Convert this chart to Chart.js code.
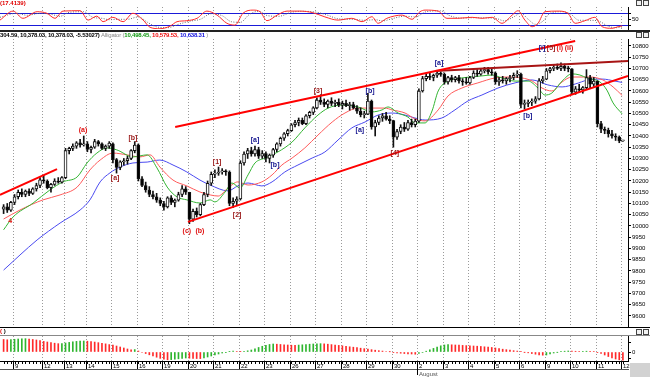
<!DOCTYPE html>
<html><head><meta charset="utf-8">
<script src="https://cdn.jsdelivr.net/npm/chart.js@4.4.0/dist/chart.umd.min.js"></script>
<style>
html,body{margin:0;padding:0;background:#fff;}
body{width:650px;height:377px;position:relative;overflow:hidden;font-family:"Liberation Sans",Arial,sans-serif;}
canvas{position:absolute;left:0;}
.rule{position:absolute;left:0;width:650px;}
.txt{position:absolute;left:0;white-space:nowrap;font-size:6px;line-height:7px;font-weight:bold;}
.ico{position:absolute;left:636px;width:14px;height:6px;}
.ico i{position:absolute;top:0;width:4px;height:4px;border:1px solid #444;background:#f2f2f2;}
</style></head><body>
<canvas id="c1" width="650" height="31" style="top:0"></canvas>
<div class="txt" style="top:0;color:#e00000">(17.4139)</div>
<div class="ico" style="top:0"><i style="left:0"></i><i style="left:7px"></i></div>
<div class="rule" style="top:30px;height:2px;background:#222"></div>
<div class="txt" style="top:32px;color:#000;letter-spacing:-0.2px">304.59, 10,378.03, 10,378.03, -5.53027) <span style="color:#888;font-weight:normal">Alligator (</span><span style="color:#119911">10,498.45,</span> <span style="color:#ee1111">10,579.53,</span> <span style="color:#1111dd">10,638.31</span> <span style="color:#888;font-weight:normal">)</span></div>
<div class="ico" style="top:32px"><i style="left:0"></i><i style="left:7px"></i></div>
<canvas id="c2" width="650" height="288" style="top:39px"></canvas>
<div class="rule" style="top:327px;height:1px;background:#000"></div>
<div class="txt" style="top:328px;color:#000"><span style="color:#e00000">(</span> )</div>
<div class="ico" style="top:329px"><i style="left:0"></i><i style="left:7px"></i></div>
<div class="rule" style="top:335px;height:1px;background:#888"></div>
<canvas id="c3" width="650" height="41" style="top:336px"></canvas>
<script>
// ---------------- DATA ----------------
const xMin = -0.99, xMax = 171.4;
const dayLabels = ['9','12','13','14','15','16','19','20','21','22','23','26','27','28','29','30','2','3','4','5','6','9','10','11','12'];
const dayStart  = [3,11,17,23,30,37,44,51,58,65,72,79,86,93,100,107,114,121,128,135,142,149,156,163,170];
const monthMarks = [[16,'August']];

const opens = [10075,10085,10070,10105,10130,10150,10140,10155,10145,10165,
10180,10205,10200,10170,10185,10200,10195,10215,10335,10345,
10355,10370,10360,10365,10340,10350,10375,10365,10345,10355,
10365,10295,10260,10285,10290,10300,10335,10360,10210,10180,
10160,10140,10130,10115,10100,10085,10125,10105,10115,10140,
10165,10150,10030,10065,10050,10095,10140,10190,10230,10235,
10240,10245,10240,10100,10110,10120,10280,10320,10335,10320,
10340,10310,10322,10300,10315,10340,10365,10390,10410,10424,
10450,10460,10470,10455,10490,10505,10525,10560,10550,10540,
10555,10545,10550,10537,10545,10535,10540,10525,10510,10495,
10497,10555,10440,10460,10480,10490,10475,10468,10395,10420,
10440,10430,10460,10450,10466,10600,10655,10665,10660,10670,
10680,10674,10640,10660,10650,10660,10645,10640,10636,10660,
10680,10675,10690,10695,10685,10680,10640,10650,10645,10655,
10660,10670,10675,10540,10545,10550,10555,10565,10645,10653,
10690,10700,10705,10700,10710,10700,10698,10595,10610,10605,
10615,10660,10630,10644,10455,10430,10425,10410,10400,10395,10378];
const highs = [10095,10100,10110,10140,10160,10165,10160,10165,10170,10190,
10215,10225,10205,10190,10210,10215,10220,10345,10350,10365,
10375,10385,10400,10375,10355,10385,10380,10370,10360,10375,
10370,10300,10290,10300,10310,10340,10375,10365,10220,10195,
10175,10155,10145,10125,10110,10130,10135,10120,10150,10180,
10175,10150,10075,10080,10100,10150,10200,10240,10250,10262,
10255,10250,10245,10125,10130,10290,10330,10345,10350,10355,
10350,10335,10330,10320,10345,10370,10395,10415,10430,10455,
10470,10480,10480,10495,10510,10530,10570,10582,10565,10560,
10570,10560,10565,10555,10560,10550,10550,10535,10525,10510,
10590,10560,10470,10490,10500,10505,10490,10470,10430,10450,
10460,10470,10475,10475,10610,10665,10675,10680,10675,10690,
10685,10680,10665,10670,10665,10670,10655,10660,10665,10690,
10695,10700,10705,10705,10700,10685,10660,10665,10660,10670,
10680,10690,10680,10560,10560,10565,10575,10655,10665,10700,
10705,10715,10720,10725,10720,10710,10700,10620,10630,10620,
10695,10670,10660,10645,10465,10440,10435,10425,10410,10400,10380];
const lows = [10055,10060,10065,10095,10120,10130,10130,10135,10140,10155,
10170,10190,10165,10150,10180,10190,10190,10210,10320,10335,
10345,10350,10355,10330,10325,10345,10355,10340,10335,10345,
10280,10235,10250,10270,10275,10295,10325,10200,10175,10150,
10130,10120,10105,10090,10070,10080,10095,10085,10110,10130,
10140,10010,10020,10040,10045,10090,10130,10180,10215,10225,
10230,10225,10090,10082,10095,10115,10270,10300,10310,10310,
10300,10300,10285,10280,10305,10330,10355,10380,10400,10420,
10440,10445,10450,10450,10480,10495,10520,10540,10530,10525,
10535,10530,10530,10520,10530,10515,10520,10500,10485,10480,
10495,10430,10400,10450,10465,10470,10455,10350,10385,10410,
10420,10425,10440,10440,10460,10595,10645,10650,10645,10660,
10665,10630,10630,10640,10640,10635,10625,10630,10630,10655,
10665,10670,10680,10675,10670,10630,10625,10635,10630,10640,
10650,10660,10525,10520,10530,10535,10545,10560,10635,10650,
10680,10690,10695,10690,10690,10685,10585,10585,10595,10590,
10610,10615,10620,10440,10415,10410,10395,10390,10380,10370,10376];
const closes = [10085,10070,10105,10130,10150,10140,10155,10145,10165,10180,
10205,10200,10170,10185,10200,10195,10215,10335,10345,10355,
10370,10360,10365,10340,10350,10375,10365,10345,10355,10368,
10295,10260,10285,10290,10300,10335,10360,10210,10180,10160,
10140,10130,10115,10100,10085,10125,10105,10115,10140,10165,
10150,10030,10065,10050,10095,10140,10190,10230,10235,10240,
10245,10240,10100,10110,10120,10280,10320,10335,10320,10340,
10310,10322,10300,10315,10340,10365,10390,10410,10424,10450,
10460,10470,10455,10490,10505,10525,10560,10550,10540,10555,
10545,10550,10537,10545,10535,10540,10525,10510,10495,10497,
10555,10440,10460,10480,10490,10475,10468,10395,10420,10440,
10430,10460,10450,10466,10600,10655,10665,10660,10670,10680,
10674,10640,10660,10650,10660,10645,10640,10636,10660,10680,
10675,10690,10695,10685,10680,10640,10650,10645,10655,10660,
10670,10675,10540,10545,10550,10555,10565,10645,10653,10690,
10700,10705,10700,10710,10700,10698,10595,10610,10605,10615,
10660,10630,10644,10455,10430,10425,10410,10400,10395,10378,10378];

// Alligator lines: [bar, price]
const lips = [[0,9983],[2.6,10040],[8.1,10102],[12.7,10160],[16.3,10196],[20.2,10218],[22.9,10280],[25.6,10324],[28.4,10347],[31.1,10338],[35.5,10307],[39.4,10316],[42.1,10258],[44.9,10173],[47.6,10129],[50.3,10116],[53.9,10102],[56.7,10116],[58,10107],[60.8,10151],[62.7,10191],[64.9,10169],[67.1,10227],[69,10280],[71.8,10302],[75.3,10329],[79.2,10373],[82.7,10436],[86.3,10493],[89.1,10524],[92.9,10538],[97.3,10529],[101.1,10507],[103.9,10516],[105.5,10529],[108.3,10502],[111,10484],[112.9,10458],[115.7,10458],[117.6,10511],[119.3,10600],[122,10644],[125.8,10658],[131.3,10667],[134.1,10671],[136.8,10658],[140.4,10644],[144,10644],[146.7,10613],[148.6,10582],[150.5,10591],[153.3,10644],[156,10676],[158.2,10671],[160.1,10658],[163.7,10640],[165.6,10604],[167.3,10547],[169.8,10498]];
const teeth = [[0,10031],[4.5,10071],[10.8,10116],[15.5,10138],[20.2,10173],[23.7,10249],[26.5,10293],[30,10324],[33.9,10316],[37.4,10307],[40.2,10316],[42.9,10262],[46.5,10204],[50.3,10178],[53.9,10151],[56.7,10138],[58.9,10133],[61.6,10169],[64.3,10196],[67.1,10182],[70.9,10196],[73.7,10227],[76.4,10271],[79.2,10302],[82.7,10347],[86.3,10404],[90.2,10462],[93.7,10502],[97.3,10524],[101.1,10524],[104.7,10524],[106.6,10516],[110.2,10502],[112.9,10476],[115.7,10467],[119.3,10516],[122,10578],[125.8,10613],[130.2,10636],[134.9,10658],[138.5,10662],[142.3,10658],[145.1,10644],[147.8,10613],[150.5,10600],[153.3,10640],[156,10662],[161,10662],[164.5,10649],[167.3,10618],[169.8,10580]];
const jaw = [[0,9804],[4.5,9871],[9.2,9938],[15.5,10013],[21,10071],[23.7,10116],[26.5,10196],[29.2,10236],[32,10262],[35.5,10280],[39.4,10284],[42.9,10293],[46.5,10271],[50.3,10240],[53.9,10204],[56.7,10182],[61.6,10156],[64.3,10178],[67.1,10191],[70.9,10178],[73.7,10196],[77.2,10240],[80.8,10271],[84.7,10302],[88.2,10329],[91.8,10382],[95.6,10436],[99.2,10462],[102.8,10493],[106.6,10502],[110.2,10493],[112.9,10480],[115.7,10471],[120.3,10480],[123.9,10516],[127.5,10556],[131.3,10582],[135.7,10613],[140.4,10636],[145.1,10649],[149.4,10627],[153.3,10618],[156.9,10631],[160.4,10649],[164.3,10653],[167.8,10644],[169.8,10638]];

// Trend lines: [bar, price] end points
const trendLeft = [[-0.99,10138],[14.66,10253]];
const channelTop = [[47.1,10440],[156.9,10822]];
const channelBottom = [[50.6,10018],[171.4,10667]];
const resistance = [[118.4,10689],[171.4,10733]];

// Wave labels: [bar, price, text]; kinds: m = wave, r = sub-wave, b = minor
const waveLabels = [[1.8,10022,'4'],[21.8,10427,'(a)'],[30.6,10213,'[a]'],[35.5,10391,'[b]'],[50.3,9978,'(c)'],[53.9,9978,'(b)'],[58.6,10284,'[1]'],[64.1,10049,'[2]'],[69,10382,'[a]'],[74.5,10271,'[b]'],[86.3,10600,'[3]'],[97.8,10427,'[a]'],[100.6,10600,'[b]'],[107.4,10324,'[4]'],[119.5,10724,'[a]'],[143.9,10489,'[b]'],[147.8,10791,'[i]'],[150.3,10791,'[5]'],[152.7,10791,'(i)'],[155.2,10791,'(ii)']];
const waveKinds = ['r','r','m','m','r','r','m','m','b','b','m','b','b','m','b','b','b','m','r','r'];

const priceTicks = [9600,9650,9700,9750,9800,9850,9900,9950,10000,10050,10100,10150,10200,10250,10300,10350,10400,10450,10500,10550,10600,10650,10700,10750,10800];

// Stochastic: [bar, value]
const stochK = [[-0.99,46],[2.6,91],[5.3,55],[9.2,88],[11.9,80],[14.1,55],[16.3,91],[21,93],[23.2,46],[25.6,66],[27.3,38],[30,60],[32.8,38],[35.5,80],[38.3,46],[40.2,10],[42.9,3],[45.7,16],[47.6,38],[50.3,43],[53.1,55],[55.8,91],[58.6,71],[61.3,30],[63.5,21],[65.7,80],[68.5,96],[70.4,88],[72.3,43],[75.1,71],[77.8,91],[81.4,91],[84.9,83],[88.2,62],[91.8,46],[95.6,55],[98.4,38],[101.1,63],[102.8,30],[105.2,55],[109.4,71],[112.1,50],[114.3,88],[115.7,96],[119.3,91],[121.7,55],[124.7,55],[128.6,60],[131.3,55],[134.1,60],[136.8,30],[139.6,71],[141.2,93],[143.1,46],[145.1,13],[146.7,30],[148.6,88],[152.2,91],[154.9,80],[156.9,30],[159.6,43],[162.3,60],[164.3,13],[167,5],[168.7,13],[169.8,17]];
const stochD = [[-0.99,60],[3.5,80],[6.5,70],[10,80],[13,75],[15.5,65],[18,85],[22,88],[24.5,60],[27,55],[29,48],[31.5,50],[34,50],[37,62],[39.5,35],[42,12],[45,8],[48,25],[51,40],[54,50],[57,78],[60,68],[62.5,38],[65,35],[67.5,75],[70,90],[72.5,68],[75.5,65],[79,85],[82,90],[86,85],[89,70],[92,52],[96,50],[99,45],[102,48],[104,42],[107,55],[110,65],[113,62],[116,88],[120,92],[122.5,68],[125.5,56],[129.5,58],[132,57],[135,55],[137.5,42],[140,62],[142,80],[144,50],[146,25],[148,40],[150,80],[153,88],[155.5,78],[158,45],[161,45],[163.5,40],[166,15],[168,8],[169.8,12]];
const stochLevels = [20,80];

// Awesome oscillator histogram (one value per bar)
const ao = [188,183,186,191,195,198,200,195,188,180,
170,159,150,141,132,125,128,135,144,153,
159,164,165,162,156,149,140,131,122,111,
102,90,75,60,45,33,36,15,-8,-23,
-42,-60,-78,-95,-108,-117,-114,-108,-102,-95,
-90,-93,-96,-98,-99,-90,-75,-60,-45,-30,
-15,-5,5,12,8,5,9,18,30,48,
68,86,101,113,120,117,113,108,105,102,
101,104,108,113,117,120,123,125,122,117,
111,105,99,93,86,78,72,65,57,50,
42,35,27,20,14,8,3,-5,-12,-18,
-23,-27,-30,-33,-23,-8,12,33,54,75,
93,105,110,108,105,102,99,96,93,90,
87,83,78,74,68,60,51,42,35,27,
20,14,6,-3,-12,-23,-33,-42,-48,-45,
-30,-15,-3,6,12,15,14,11,8,9,
12,11,8,-5,-23,-45,-68,-87,-105,-117,-123];

// ---------------- RENDER ----------------
const FONT = '"Liberation Sans", Arial, sans-serif';
Chart.defaults.font.family = FONT;
const pts = a => a.map(p => ({x:p[0], y:p[1]}));
const bars = closes.map((c,i)=>i);

const dayGrid = {
  id:'dayGrid',
  beforeDatasetsDraw(ch){
    const {ctx, chartArea:a, scales:{x}} = ch;
    ctx.save(); ctx.strokeStyle='#9a9a9a'; ctx.lineWidth=1; ctx.setLineDash([1,2]);
    dayStart.forEach(s=>{
      const px = Math.round(x.getPixelForValue(s-0.5))+0.5;
      ctx.beginPath(); ctx.moveTo(px,a.top); ctx.lineTo(px,a.bottom); ctx.stroke();
    });
    ctx.restore();
  }
};
const levelLines = {
  id:'levelLines',
  beforeDatasetsDraw(ch){
    const {ctx, chartArea:a, scales:{y}} = ch;
    ctx.save(); ctx.strokeStyle='#1a1ad8'; ctx.lineWidth=1;
    stochLevels.forEach(v=>{
      const py = Math.round(y.getPixelForValue(v))+0.5;
      ctx.beginPath(); ctx.moveTo(a.left,py); ctx.lineTo(a.right,py); ctx.stroke();
    });
    ctx.restore();
  }
};
const kindColor = {m:'#9a1818', r:'#e01010', b:'#12128e'};
const waveText = {
  id:'waveText',
  afterDatasetsDraw(ch){
    const {ctx, scales:{x,y}} = ch;
    ctx.save(); ctx.font = 'bold 7px '+FONT; ctx.textAlign='center'; ctx.textBaseline='middle';
    waveLabels.forEach((w,k)=>{
      ctx.fillStyle = kindColor[waveKinds[k]];
      ctx.fillText(w[2], x.getPixelForValue(w[0]), y.getPixelForValue(w[1]));
    });
    ctx.restore();
  }
};
const dateAxis = {
  id:'dateAxis',
  afterDraw(ch){
    const {ctx, chartArea:a, scales:{x}} = ch;
    const top = a.bottom;
    ctx.save();
    ctx.fillStyle='#000';
    ctx.fillRect(0, top, a.right+1, 1);
    bars.forEach(i=>{ const px=Math.round(x.getPixelForValue(i)); ctx.fillRect(px, top+1, 1, 2); });
    ctx.font = '6px '+FONT; ctx.textBaseline='alphabetic'; ctx.textAlign='left';
    dayStart.forEach((s,k)=>{
      const px=Math.round(x.getPixelForValue(s-0.5));
      ctx.fillRect(px, top, 1, 8);
      ctx.fillText(dayLabels[k], px+2, top+7);
    });
    ctx.fillStyle='#555';
    ctx.fillRect(0, top+8, a.right+1, 1);
    monthMarks.forEach(m=>{
      const px=Math.round(x.getPixelForValue(dayStart[m[0]]-0.5));
      ctx.fillStyle='#000'; ctx.fillRect(px, top+8, 1, 6);
      ctx.fillStyle='#555'; ctx.fillText(m[1], px+2, top+15);
    });
    ctx.fillStyle='#d2d2d2'; ctx.fillRect(a.right+2, top+2, 30, 20);
    ctx.restore();
  }
};

function rightAxis(min, max, tickVals, labelFn){
  return {
    position:'right', min, max,
    afterFit(s){ s.width = 22; s.paddingTop = 0; s.paddingBottom = 0; },
    afterBuildTicks(s){ s.ticks = tickVals.map(v=>({value:v})); },
    border:{display:true, color:'#000', width:1},
    grid:{drawOnChartArea:false, color:'#000', tickLength:3, tickWidth:1},
    ticks:{color:'#000', font:{size:6}, padding:1, autoSkip:false, maxRotation:0, callback:labelFn}
  };
}
const xAxis = () => ({type:'linear', min:xMin, max:xMax, display:false, offset:false});
const base = {responsive:false, animation:false, events:[], plugins:{legend:{display:false}, tooltip:{enabled:false}}};

// Stochastic panel
new Chart(document.getElementById('c1'), {
  type:'line',
  data:{datasets:[
    {data:pts(stochK), borderColor:'#ff2a2a', borderWidth:1, pointRadius:0, cubicInterpolationMode:'monotone'},
    {data:pts(stochD), borderColor:'#6a6a6a', borderWidth:1, borderDash:[1,1.5], pointRadius:0, cubicInterpolationMode:'monotone'}
  ]},
  options:Object.assign({}, base, {
    layout:{padding:{top:7,bottom:2,left:0,right:0}},
    scales:{x:xAxis(), y:rightAxis(1.5, 111.5, [20,50,80], v=>v===50?'50':'')}
  }),
  plugins:[dayGrid, levelLines]
});

// Main price panel
new Chart(document.getElementById('c2'), {
  type:'bar',
  data:{datasets:[
    {type:'line', data:pts(trendLeft), borderColor:'#ff0000', borderWidth:2, pointRadius:0, order:0},
    {type:'line', data:pts(channelTop), borderColor:'#ff0000', borderWidth:2, pointRadius:0, order:0},
    {type:'line', data:pts(channelBottom), borderColor:'#ff0000', borderWidth:2, pointRadius:0, order:0},
    {type:'line', data:pts(resistance), borderColor:'#a81414', borderWidth:2, pointRadius:0, order:0},
    {type:'bar', data:bars.map(i=>({x:i, y:[Math.min(opens[i],closes[i]), Math.max(opens[i],closes[i])]})),
      backgroundColor:bars.map(i=>closes[i]>=opens[i]?'#ffffff':'#000'), borderColor:'#111', borderWidth:1, borderSkipped:false,
      barThickness:3, minBarLength:1, grouped:false, order:1},
    {type:'bar', data:bars.map(i=>({x:i, y:[lows[i], highs[i]]})), backgroundColor:'#111', barThickness:1, grouped:false, order:2},
    {type:'line', data:pts(lips), borderColor:'#33b533', borderWidth:1, pointRadius:0, cubicInterpolationMode:'monotone', order:3},
    {type:'line', data:pts(teeth), borderColor:'#ff5a5a', borderWidth:1, pointRadius:0, cubicInterpolationMode:'monotone', order:3},
    {type:'line', data:pts(jaw), borderColor:'#4a4af0', borderWidth:1, pointRadius:0, cubicInterpolationMode:'monotone', order:3}
  ]},
  options:Object.assign({}, base, {
    layout:{padding:0},
    scales:{x:xAxis(), y:rightAxis(9551, 10831, priceTicks, v=>String(v))}
  }),
  plugins:[dayGrid, waveText]
});

// Awesome oscillator + date axis
new Chart(document.getElementById('c3'), {
  type:'bar',
  data:{datasets:[
    {data:ao.map((v,i)=>({x:i, y:v})), backgroundColor:ao.map((v,i)=> i>0 && v>ao[i-1] ? '#2fb52f' : '#ff2a2a'),
      barThickness:1, grouped:false}
  ]},
  options:Object.assign({}, base, {
    layout:{padding:{top:0,bottom:16,left:0,right:0}},
    scales:{x:xAxis(), y:rightAxis(-135, 240, [-100,0,150], v=>v===0?'0':'')}
  }),
  plugins:[dayGrid, dateAxis]
});
</script>
</body></html>
